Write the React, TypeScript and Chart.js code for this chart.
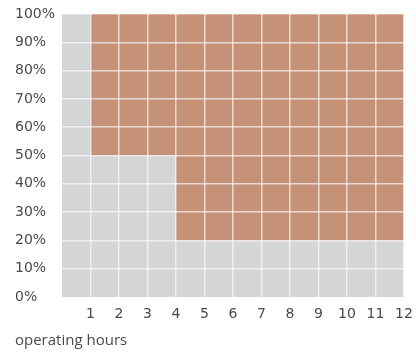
import React, { useEffect, useRef } from "react";
import { Chart, registerables } from "chart.js";

Chart.register(...registerables);

// Data
const boundaryHours = [1, 4, 4, 12];
const boundaryPercent = [50, 50, 20, 20];
const xTickHours = [1, 2, 3, 4, 5, 6, 7, 8, 9, 10, 11, 12];
const yTickPercents = [0, 10, 20, 30, 40, 50, 60, 70, 80, 90, 100];
const xAxisLabel = "operating hours";

const GRAY = "#d4d5d7";
const BROWN = "#c59278";
const GRID = "rgba(255,255,255,0.65)";
const TEXT = "#4a4a4a";

const bgPlugin = {
  id: "plotBg",
  beforeDraw(chart: any) {
    const { ctx, chartArea } = chart;
    if (!chartArea) return;
    ctx.save();
    ctx.fillStyle = GRAY;
    ctx.fillRect(chartArea.left, chartArea.top, chartArea.right - chartArea.left, chartArea.bottom - chartArea.top);
    ctx.restore();
  },
};

export default function App() {
  const ref = useRef<HTMLCanvasElement | null>(null);
  useEffect(() => {
    if (!ref.current) return;
    const chart = new Chart(ref.current, {
      type: "line",
      data: {
        datasets: [
          {
            data: boundaryHours.map((h, i) => ({ x: h, y: boundaryPercent[i] })),
            borderWidth: 0,
            pointRadius: 0,
            backgroundColor: BROWN,
            borderColor: BROWN,
            fill: "end",
            tension: 0,
          },
        ],
      },
      plugins: [bgPlugin],
      options: {
        animation: false,
        responsive: true,
        maintainAspectRatio: false,
        layout: { padding: { left: 15, right: 12, top: 14, bottom: 0 } },
        plugins: {
          legend: { display: false },
          tooltip: { enabled: false },
          title: {
            display: true,
            text: xAxisLabel,
            position: "bottom",
            align: "start",
            color: TEXT,
            font: { family: "Open Sans", size: 15, weight: "normal" },
            padding: { top: 0, bottom: 4 },
          },
        },
        scales: {
          x: {
            type: "linear",
            min: 0,
            max: 12,
            afterFit(scale: any) {
              scale.height = 35;
              scale.paddingLeft = 0;
              scale.paddingRight = 0;
            },
            afterBuildTicks(scale: any) {
              scale.ticks = [0, ...xTickHours].map((v) => ({ value: v }));
            },
            border: { display: false },
            grid: {
              z: 1,
              drawTicks: false,
              lineWidth: 1.5,
              color: (c: any) => (c.tick && c.tick.value === 0 ? "rgba(0,0,0,0)" : GRID),
            },
            ticks: {
              padding: 9,
              color: TEXT,
              font: { family: "DejaVu Sans", size: 14 },
              callback: (v: any) => (v === 0 ? "" : String(v)),
            },
          },
          y: {
            min: 0,
            max: 100,
            afterFit(scale: any) {
              scale.width = 47;
            },
            afterBuildTicks(scale: any) {
              scale.ticks = yTickPercents.map((v) => ({ value: v }));
            },
            border: { display: false },
            grid: {
              z: 1,
              drawTicks: false,
              lineWidth: 1.5,
              color: (c: any) => (c.tick && c.tick.value === 0 ? "rgba(0,0,0,0)" : GRID),
            },
            ticks: {
              crossAlign: "far",
              color: TEXT,
              font: { family: "DejaVu Sans", size: 14 },
              callback: (v: any) => v + "%",
            },
          },
        },
      },
    });
    return () => chart.destroy();
  }, []);
  return (
    <div style={{ position: "absolute", left: 0, top: 0, width: 416, height: 354 }}>
      <canvas ref={ref} />
    </div>
  );
}
